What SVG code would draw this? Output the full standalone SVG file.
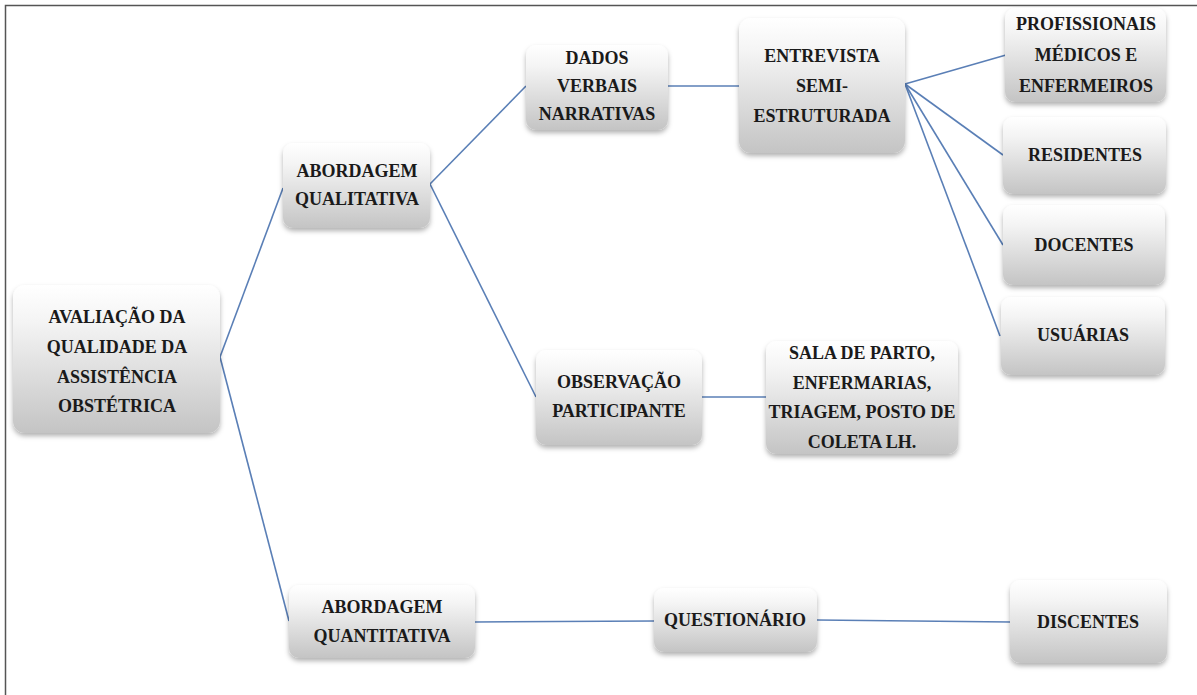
<svg xmlns="http://www.w3.org/2000/svg" width="1197" height="695" viewBox="0 0 1197 695">
<defs>
<linearGradient id="g" x1="0" y1="0" x2="0" y2="1">
<stop offset="0" stop-color="#ffffff"/>
<stop offset="0.25" stop-color="#f4f4f4"/>
<stop offset="1" stop-color="#c4c4c4"/>
</linearGradient>
<filter id="sh" x="-10%" y="-10%" width="120%" height="130%">
<feDropShadow dx="0" dy="3" stdDeviation="2.5" flood-color="#000" flood-opacity="0.3"/>
</filter>
</defs>
<style>
.box{fill:url(#g);filter:url(#sh);}
text{font-family:"Liberation Serif","Times New Roman",serif;font-weight:bold;font-size:18px;fill:#1a1a1a;text-anchor:middle;}
.c line{stroke:#5a7fb6;stroke-width:1.6;}
</style>
<rect width="1197" height="695" fill="#fff"/>
<path d="M5.5,695 V5.5 H1197" fill="none" stroke="#555" stroke-width="1.5"/>
<g class="c" id="connectors">
<line x1="220" y1="357" x2="283" y2="188"/>
<line x1="220" y1="357" x2="289" y2="621"/>
<line x1="430" y1="184" x2="526" y2="86"/>
<line x1="430" y1="184" x2="536" y2="397"/>
<line x1="668" y1="86" x2="739" y2="86"/>
<line x1="905" y1="84" x2="1006" y2="55"/>
<line x1="905" y1="84" x2="1003" y2="155"/>
<line x1="905" y1="84" x2="1003" y2="245"/>
<line x1="905" y1="84" x2="1000" y2="336"/>
<line x1="702" y1="397" x2="766" y2="397"/>
<line x1="475" y1="622" x2="654" y2="621"/>
<line x1="817" y1="620" x2="1010" y2="622"/>
</g>
<g id="avaliacao"><rect class="box" x="13" y="285" width="207" height="148" rx="12"/>
<text x="117" y="323">AVALIAÇÃO DA</text><text x="117" y="353">QUALIDADE DA</text><text x="117" y="383">ASSISTÊNCIA</text><text x="117" y="412">OBSTÉTRICA</text></g>
<g id="qualitativa"><rect class="box" x="283" y="143" width="147" height="85" rx="10"/>
<text x="357" y="177">ABORDAGEM</text><text x="357" y="205">QUALITATIVA</text></g>
<g id="dados"><rect class="box" x="526" y="45" width="142" height="85" rx="10"/>
<text x="597" y="64">DADOS</text><text x="597" y="92">VERBAIS</text><text x="597" y="120">NARRATIVAS</text></g>
<g id="entrevista"><rect class="box" x="739" y="18" width="166" height="135" rx="12"/>
<text x="822" y="62">ENTREVISTA</text><text x="822" y="92">SEMI-</text><text x="822" y="122">ESTRUTURADA</text></g>
<g id="profissionais"><rect class="box" x="1005" y="8" width="161" height="94" rx="10"/>
<text x="1086" y="30">PROFISSIONAIS</text><text x="1086" y="61">MÉDICOS E</text><text x="1086" y="92">ENFERMEIROS</text></g>
<g id="residentes"><rect class="box" x="1003" y="117" width="163" height="77" rx="10"/>
<text x="1085" y="161">RESIDENTES</text></g>
<g id="docentes"><rect class="box" x="1003" y="205" width="162" height="80" rx="10"/>
<text x="1084" y="251">DOCENTES</text></g>
<g id="usuarias"><rect class="box" x="1001" y="297" width="164" height="78" rx="10"/>
<text x="1083" y="341">USUÁRIAS</text></g>
<g id="observacao"><rect class="box" x="536" y="350" width="166" height="95" rx="10"/>
<text x="619" y="388">OBSERVAÇÃO</text><text x="619" y="417">PARTICIPANTE</text></g>
<g id="sala"><rect class="box" x="766" y="341" width="192" height="113" rx="10"/>
<text x="862" y="359">SALA DE PARTO,</text><text x="862" y="389">ENFERMARIAS,</text><text x="862" y="418">TRIAGEM, POSTO DE</text><text x="862" y="448">COLETA LH.</text></g>
<g id="quantitativa"><rect class="box" x="289" y="585" width="186" height="73" rx="10"/>
<text x="382" y="613">ABORDAGEM</text><text x="382" y="642">QUANTITATIVA</text></g>
<g id="questionario"><rect class="box" x="654" y="588" width="163" height="64" rx="10"/>
<text x="735" y="626">QUESTIONÁRIO</text></g>
<g id="discentes"><rect class="box" x="1010" y="580" width="157" height="83" rx="10"/>
<text x="1088" y="628">DISCENTES</text></g>
</svg>
